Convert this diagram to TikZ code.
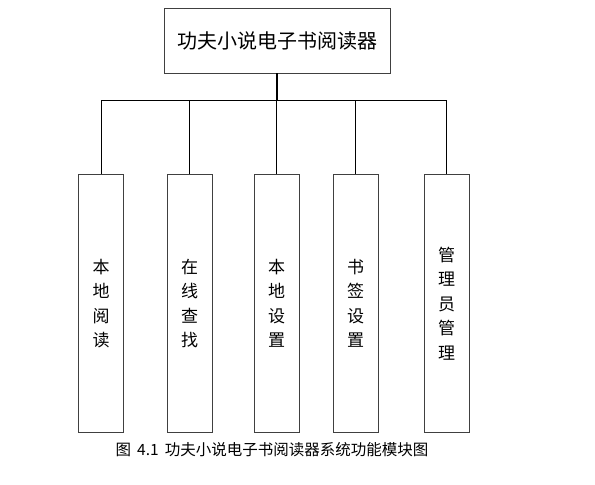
\documentclass[tikz,border=0pt]{standalone}
\usepackage{fontspec}
\newfontfamily\cjk{Noto Sans CJK SC}
\begin{document}
\begin{tikzpicture}[x=1pt,y=-1pt,
  box/.style={draw=black!75,line width=0.9pt,inner sep=0pt,font=\cjk},
  sub/.style={box,minimum width=45pt,minimum height=258pt,anchor=north,
     align=center,font=\cjk\fontsize{17}{24.5}\selectfont},
  link/.style={draw=black,line width=0.9pt}]
\useasboundingbox (0,0) rectangle (595,485);
\node[box,minimum width=226pt,minimum height=65pt,font=\cjk\fontsize{20}{24}\selectfont] (top) at (277,40.5) {功夫小说电子书阅读器};
\coordinate (j) at (277,100);
\node[sub] (a) at (101,174) {本\\地\\阅\\读};
\node[sub] (b) at (189.5,174) {在\\线\\查\\找};
\node[sub] (c) at (276.5,174) {本\\地\\设\\置};
\node[sub] (d) at (355.5,174) {书\\签\\设\\置};
\node[sub] (e) at (446.5,174) {管\\理\\员\\管\\理};
\draw[link,line width=1.4pt] (top.south) -- (j);
\draw[link] (a.north) -- (a.north |- j) -- (e.north |- j) -- (e.north);
\draw[link] (b.north) -- (b.north |- j);
\draw[link] (c.north) -- (c.north |- j);
\draw[link] (d.north) -- (d.north |- j);
\node[font=\cjk\fontsize{15.5}{17}\selectfont,inner sep=0pt] (cap) at (272,450) {图\hspace{0.4em}4.1\hspace{0.4em}功夫小说电子书阅读器系统功能模块图};
\end{tikzpicture}
\end{document}
